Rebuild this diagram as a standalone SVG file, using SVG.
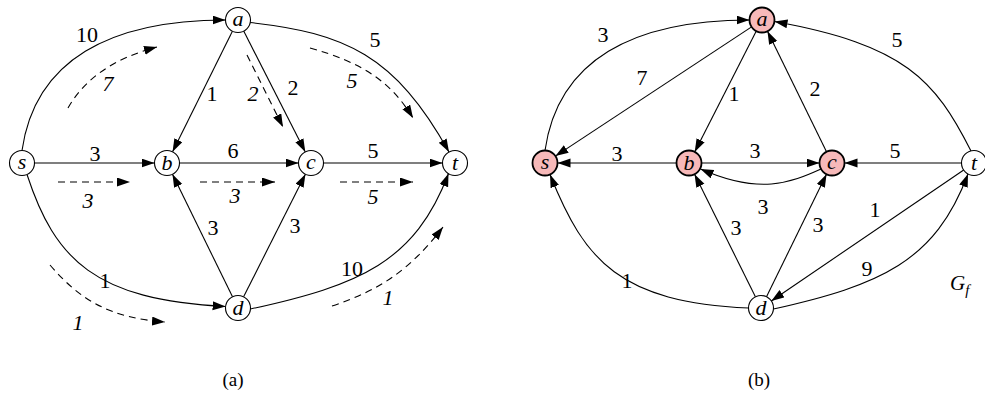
<svg xmlns="http://www.w3.org/2000/svg" width="985" height="396" viewBox="0 0 985 396">
<style>
.e{fill:none;stroke:#000;stroke-width:1.1}
.a{marker-end:url(#ah)}
.f{fill:none;stroke:#000;stroke-width:1.1;stroke-dasharray:7 5;marker-end:url(#ah)}
.n{fill:#fff;stroke:#000;stroke-width:1.1}
.p{fill:#f7b9b9;stroke:#000;stroke-width:1.8}
text{font-family:'Liberation Serif','Times New Roman',Times,serif}
.nl{font-style:italic;font-size:22px;text-anchor:middle}
.l{font-size:22px;text-anchor:middle}
.li{font-style:italic;font-size:22px;text-anchor:middle}
.c{font-size:19px;text-anchor:middle}
</style>
<defs>
<marker id="ah" markerUnits="userSpaceOnUse" markerWidth="14" markerHeight="10" refX="13" refY="4.5" orient="auto">
<path d="M0,0 L13,4.5 L0,9 Z" fill="#000"/>
</marker>
</defs>
<rect width="985" height="396" fill="#fff"/>
<g id="connectors">
<path class="e a" d="M22,150.5 C35,60 110,20 225.5,20"/>
<path class="e a" d="M250,22.5 C345,33 395,55 449,152"/>
<path class="e a" d="M27,174.5 C55,260 95,300 225.6,306.5"/>
<path class="e a" d="M250.5,309 C360,285 415,262 448.5,173.5"/>
<path class="e a" d="M34.5,163 L154.5,163"/>
<path class="e a" d="M179.5,163 L298.5,163"/>
<path class="e a" d="M323.5,163 L442.5,163"/>
<path class="e a" d="M232.4,31.2 L172.6,151.8"/>
<path class="e a" d="M243.7,31.1 L305.3,151.9"/>
<path class="e a" d="M232.5,296.8 L172.5,174.2"/>
<path class="e a" d="M243.6,296.8 L305.4,174.2"/>
<path class="f" d="M68,108 C85,78 115,58 157,47"/>
<path class="f" d="M247,55 L283,127"/>
<path class="f" d="M310,48 C360,62 390,80 413,118"/>
<path class="f" d="M58,182 L130,182"/>
<path class="f" d="M200,182 L275,182"/>
<path class="f" d="M340,182 L413,182"/>
<path class="f" d="M50,265 C80,300 110,318 165,322"/>
<path class="f" d="M332,306 C380,290 410,270 443,227"/>
<path class="e a" d="M545,150.5 C558,60 633,20 749.5,20"/>
<path class="e a" d="M751.6,26.9 L555.4,156.1"/>
<path class="e a" d="M756.3,31.1 L694.7,151.9"/>
<path class="e a" d="M826.5,151.8 L767.5,31.2"/>
<path class="e a" d="M971,151 C935,80 905,45 774.5,21.5"/>
<path class="e a" d="M676.5,163 L557.5,163"/>
<path class="e a" d="M701.5,163 L819.5,163"/>
<path class="e a" d="M821,169 C790,183 760,195 700.5,169"/>
<path class="e a" d="M961.5,163 L844.5,163"/>
<path class="e a" d="M755.4,296.8 L694.6,174.2"/>
<path class="e a" d="M766.5,296.8 L826.5,174.2"/>
<path class="e a" d="M963.7,170 L771.3,301"/>
<path class="e a" d="M773.5,309 C880,285 935,262 968,174"/>
<path class="e a" d="M748.5,308 C620,302 585,262 550,174.5"/>
</g>
<g id="edge-labels">
<text class="l" x="87" y="42">10</text>
<text class="li" x="108" y="91">7</text>
<text class="l" x="212" y="101">1</text>
<text class="li" x="253" y="101">2</text>
<text class="l" x="293" y="95">2</text>
<text class="l" x="375" y="47">5</text>
<text class="li" x="352" y="88">5</text>
<text class="l" x="95" y="161">3</text>
<text class="l" x="233" y="158">6</text>
<text class="l" x="373" y="158">5</text>
<text class="li" x="88" y="208">3</text>
<text class="li" x="235" y="203">3</text>
<text class="li" x="373" y="204">5</text>
<text class="l" x="213" y="235">3</text>
<text class="l" x="295" y="233">3</text>
<text class="l" x="105" y="288">1</text>
<text class="li" x="78" y="330">1</text>
<text class="l" x="352" y="276">10</text>
<text class="li" x="388" y="305">1</text>
<text class="l" x="603" y="42">3</text>
<text class="l" x="642" y="85">7</text>
<text class="l" x="734" y="101">1</text>
<text class="l" x="815" y="96">2</text>
<text class="l" x="897" y="47">5</text>
<text class="l" x="617" y="161">3</text>
<text class="l" x="755" y="158">3</text>
<text class="l" x="895" y="158">5</text>
<text class="l" x="763" y="214">3</text>
<text class="l" x="736" y="235">3</text>
<text class="l" x="818" y="232">3</text>
<text class="l" x="875" y="217">1</text>
<text class="l" x="867" y="276">9</text>
<text class="l" x="627" y="288">1</text>
</g>
<g id="node-s1"><circle class="n" cx="22" cy="163" r="12.5"/><text class="nl" x="22" y="169">s</text></g>
<g id="node-a1"><circle class="n" cx="238" cy="20" r="12.5"/><text class="nl" x="238" y="26">a</text></g>
<g id="node-b1"><circle class="n" cx="167" cy="163" r="12.5"/><text class="nl" x="167" y="170">b</text></g>
<g id="node-c1"><circle class="n" cx="311" cy="163" r="12.5"/><text class="nl" x="311" y="169">c</text></g>
<g id="node-t1"><circle class="n" cx="455" cy="163" r="12.5"/><text class="nl" x="455" y="170">t</text></g>
<g id="node-d1"><circle class="n" cx="238" cy="308" r="12.5"/><text class="nl" x="238" y="315">d</text></g>
<g id="node-s2"><circle class="p" cx="545" cy="163" r="12.5"/><text class="nl" x="545" y="169">s</text></g>
<g id="node-a2"><circle class="p" cx="762" cy="20" r="12.5"/><text class="nl" x="762" y="26">a</text></g>
<g id="node-b2"><circle class="p" cx="689" cy="163" r="12.5"/><text class="nl" x="689" y="170">b</text></g>
<g id="node-c2"><circle class="p" cx="832" cy="163" r="12.5"/><text class="nl" x="832" y="169">c</text></g>
<g id="node-t2"><circle class="n" cx="974" cy="163" r="12.5"/><text class="nl" x="974" y="170">t</text></g>
<g id="node-d2"><circle class="n" cx="761" cy="308" r="12.5"/><text class="nl" x="761" y="315">d</text></g>
<g id="captions">
<text class="c" x="233" y="386">(a)</text>
<text class="c" x="759" y="386">(b)</text>
<text style="font-style:italic;font-size:21px" x="950" y="290">G<tspan style="font-size:15px" dy="5">f</tspan></text>
</g>
</svg>
